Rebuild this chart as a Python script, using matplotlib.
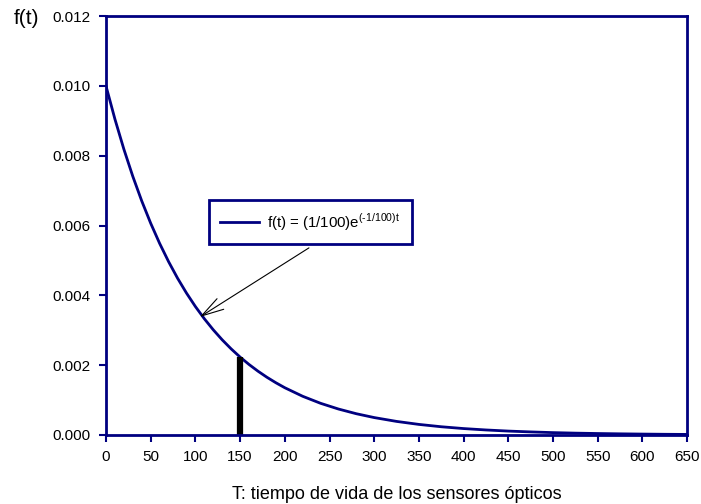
import numpy as np
import matplotlib
matplotlib.use('Agg')
import matplotlib.pyplot as plt

plt.rcParams['font.family'] = ['Liberation Sans', 'DejaVu Sans']
plt.rcParams['mathtext.fontset'] = 'custom'
plt.rcParams['mathtext.rm'] = 'Liberation Sans'

# values
t_vals = [0, 10, 20, 30, 40, 50, 60, 70, 80, 90, 100, 110, 120, 130, 140,
          150, 160, 170, 180, 190, 200, 220, 240, 260, 280, 300, 325, 350,
          375, 400, 425, 450, 475, 500, 525, 550, 575, 600, 625, 650]
f_vals = [0.010000, 0.009048, 0.008187, 0.007408, 0.006703, 0.006065,
          0.005488, 0.004966, 0.004493, 0.004066, 0.003679, 0.003329,
          0.003012, 0.002725, 0.002466, 0.002231, 0.002019, 0.001827,
          0.001653, 0.001496, 0.001353, 0.001108, 0.000907, 0.000743,
          0.000608, 0.000498, 0.000388, 0.000302, 0.000235, 0.000183,
          0.000143, 0.000111, 0.000087, 0.000067, 0.000052, 0.000041,
          0.000032, 0.000025, 0.000019, 0.000015]

# marked instant
t_mark = 150
f_mark = 0.00223

x_ticks = list(range(0, 651, 50))
y_ticks = [0.000, 0.002, 0.004, 0.006, 0.008, 0.010, 0.012]

navy = '#000080'

fig = plt.figure(figsize=(7.01, 5.04), dpi=100)
ax = fig.add_axes([0.1512, 0.137, 0.829, 0.831])

ax.plot(t_vals, f_vals, color=navy, lw=2,
        label=r'f(t) = (1/100)e$^{\text{(-1/100)t}}\ \ $')
ax.plot([t_mark, t_mark], [0, f_mark], color='black', lw=4.5,
        solid_capstyle='butt')

ax.set_xlim(0, 650)
ax.set_ylim(0, 0.012)
ax.set_xticks(x_ticks)
ax.set_yticks(y_ticks)
ax.set_yticklabels(['%.3f' % v for v in y_ticks])

for s in ax.spines.values():
    s.set_color(navy)
    s.set_linewidth(2)
ax.tick_params(direction='out', length=5, width=1.5, color=navy,
               labelsize=11, labelcolor='black')
ax.tick_params(axis='x', pad=6)
ax.tick_params(axis='y', pad=6)

ax.set_xlabel('T: tiempo de vida de los sensores ópticos', fontsize=13,
              labelpad=16)
fig.text(0.019, 0.963, 'f(t)', fontsize=15, va='center', ha='left')

leg = ax.legend(loc='upper left', bbox_to_anchor=(0.177, 0.561),
                borderaxespad=0, fancybox=False, framealpha=1,
                edgecolor=navy, fontsize=10.8, handlelength=2.6,
                borderpad=0.75, handletextpad=0.55)
leg.get_frame().set_linewidth(2)

ax.annotate('', xy=(105, 0.00338), xytext=(227, 0.00536),
            arrowprops=dict(arrowstyle='->,head_length=1.6,head_width=0.45',
                            color='black', lw=0.8, shrinkA=0, shrinkB=0))

fig.savefig('out.png', dpi=100)
